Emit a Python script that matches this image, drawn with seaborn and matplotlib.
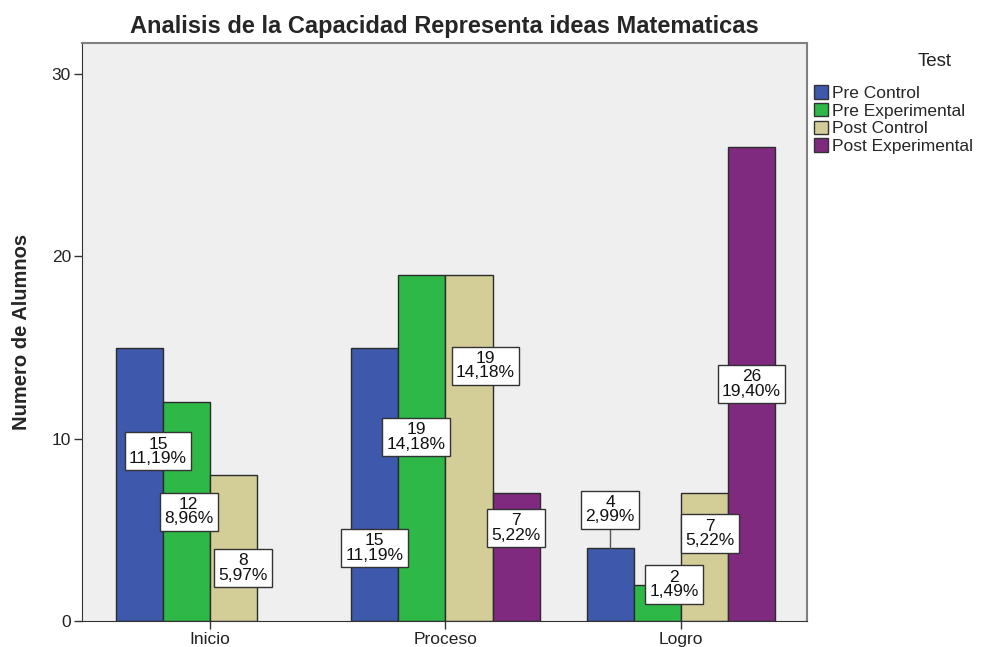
import matplotlib
matplotlib.use("Agg")
import matplotlib.pyplot as plt
import pandas as pd
import seaborn as sns

# data
niveles = ["Inicio", "Proceso", "Logro"]
tests = ["Pre Control", "Pre Experimental", "Post Control", "Post Experimental"]
pre_control = [15, 15, 4]
pre_experimental = [12, 19, 2]
post_control = [8, 19, 7]
post_experimental = [0, 7, 26]

colores = ["#3e58ac", "#2eb848", "#d3ce97", "#7f2a7f"]

# label placement (SPSS moves the boxes around to avoid overlaps)
label_y = [[9.3, 4.0, 6.1], [6.0, 10.1, 2.0], [2.9, 14.0, 4.8], [None, 5.1, 13.0]]
label_dx = [[0.08, 0.0, 0.0], [0.01, -0.025, 0.07], [0.04, 0.07, 0.025], [None, 0.0, 0.0]]

series = [pre_control, pre_experimental, post_control, post_experimental]
df = pd.DataFrame(
    [(n, t, v[i]) for t, v in zip(tests, series) for i, n in enumerate(niveles)],
    columns=["Nivel", "Test", "Alumnos"],
)
total = df["Alumnos"].sum()

sns.set_style("white")
plt.rcParams["font.family"] = ["Liberation Sans", "DejaVu Sans"]
narrow = ["Liberation Sans Narrow", "Liberation Sans"]

fig = plt.figure(figsize=(9.81, 6.47), dpi=100)
ax = fig.add_axes([0.0836, 0.0402, 0.739, 0.8933])
ax.set_facecolor("#efefef")

sns.barplot(
    data=df, x="Nivel", y="Alumnos", hue="Test", order=niveles, hue_order=tests,
    palette=colores, saturation=1, width=0.8, edgecolor="#2b2b2b", linewidth=1.0, ax=ax,
)

for h, cont in enumerate(ax.containers):
    for i, bar in enumerate(cont):
        v = series[h][i]
        if v == 0:
            bar.set_visible(False)
            continue
        xc = bar.get_x() + bar.get_width() / 2
        ly = label_y[h][i]
        pct = f"{100 * v / total:.2f}".replace(".", ",")
        if ly - 1.0 > v:
            ax.plot([xc, xc], [v, ly - 1.0], color="#555555", lw=1, zorder=3)
        ax.text(
            xc + label_dx[h][i], ly, f"{v}\n{pct}%", ha="center", va="center",
            fontsize=12.5, linespacing=0.95, color="#111111", zorder=4,
            bbox=dict(boxstyle="square,pad=0.25", fc="white", ec="#333333", lw=1),
        )

ax.set_xlim(-0.543, 2.535)
ax.set_ylim(0, 31.7)
ax.set_yticks([0, 10, 20, 30])
ax.set_xlabel("")
ax.set_ylabel("Numero de Alumnos", fontsize=14.5, fontweight="bold",
              family=narrow, labelpad=15)
ax.tick_params(axis="both", which="both", direction="out", length=6, width=1, pad=2,
               color="#333333", labelsize=12.5, labelcolor="#222222", left=True, bottom=True)
for side in ["left", "bottom"]:
    ax.spines[side].set_color("#333333")
for side in ["top", "right"]:
    ax.spines[side].set_color("#808080")
    ax.spines[side].set_linewidth(1.5)

ax.set_title("Analisis de la Capacidad Representa ideas Matematicas", fontsize=17,
             fontweight="bold", family=narrow, pad=7)

leg = ax.legend(loc="upper left", bbox_to_anchor=(0.998, 0.942), frameon=False,
                fontsize=12.5, handlelength=0.8, handleheight=0.8,
                handletextpad=0.2, labelspacing=0.12, borderaxespad=0.1)
for patch in leg.get_patches():
    patch.set_edgecolor("#333333")
fig.text(935 / 981, 1 - 62 / 647, "Test", ha="center", va="center", fontsize=13.5, color="#222222")

fig.savefig("out.png", dpi=100)
